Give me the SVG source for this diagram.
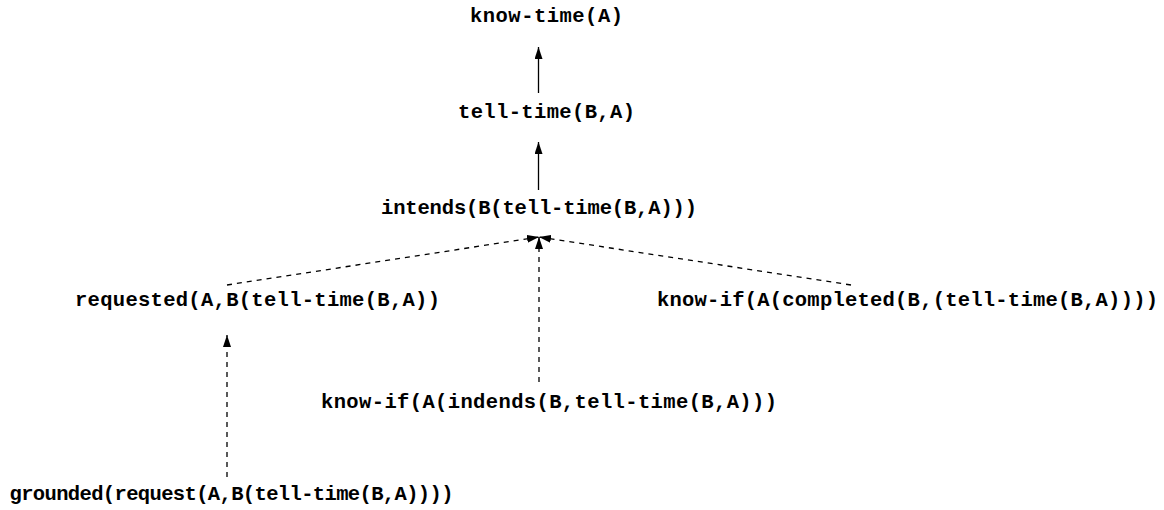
<svg xmlns="http://www.w3.org/2000/svg" width="1164" height="510" viewBox="0 0 1164 510">
  <style>
    .lbl { font-family: "Liberation Mono", "Courier New", monospace; font-weight: bold; font-size: 20.5px; fill: #000; text-anchor: middle; }
    .solid { stroke: #000; stroke-width: 1.3; fill: none; }
    .dash { stroke: #000; stroke-width: 1.3; fill: none; stroke-dasharray: 5 5; }
  </style>
  <defs>
    <marker id="head" markerUnits="userSpaceOnUse" markerWidth="12" markerHeight="8" refX="12" refY="4" orient="auto">
      <path d="M0,0 L12,4 L0,8 z" fill="#000"/>
    </marker>
  </defs>
  <rect width="1164" height="510" fill="#fff"/>

  <g id="connectors">
    <line class="solid" x1="538.5" y1="93" x2="538.5" y2="47" marker-end="url(#head)"/>
    <line class="solid" x1="538.5" y1="190" x2="538.5" y2="142" marker-end="url(#head)"/>
    <line class="dash" x1="227" y1="285" x2="539" y2="237" marker-end="url(#head)"/>
    <line class="dash" x1="539" y1="382" x2="539" y2="237" marker-end="url(#head)"/>
    <line class="dash" x1="851" y1="285" x2="539" y2="237" marker-end="url(#head)"/>
    <line class="dash" x1="227" y1="477" x2="227" y2="335" marker-end="url(#head)"/>
  </g>

  <g id="know-time">
    <text class="lbl" x="546.5" y="22" textLength="153" lengthAdjust="spacing">know-time(A)</text>
  </g>
  <g id="tell-time">
    <text class="lbl" x="546.5" y="118" textLength="177" lengthAdjust="spacing">tell-time(B,A)</text>
  </g>
  <g id="intends">
    <text class="lbl" x="539" y="214" textLength="316" lengthAdjust="spacing">intends(B(tell-time(B,A)))</text>
  </g>
  <g id="requested">
    <text class="lbl" x="257.5" y="306" textLength="365" lengthAdjust="spacing">requested(A,B(tell-time(B,A))</text>
  </g>
  <g id="know-if-completed">
    <text class="lbl" x="907.5" y="306" textLength="501" lengthAdjust="spacing">know-if(A(completed(B,(tell-time(B,A))))</text>
  </g>
  <g id="know-if-intends">
    <text class="lbl" x="549" y="408" textLength="456" lengthAdjust="spacing">know-if(A(indends(B,tell-time(B,A)))</text>
  </g>
  <g id="grounded">
    <text class="lbl" x="231.5" y="500" textLength="444" lengthAdjust="spacing">grounded(request(A,B(tell-time(B,A))))</text>
  </g>
</svg>
